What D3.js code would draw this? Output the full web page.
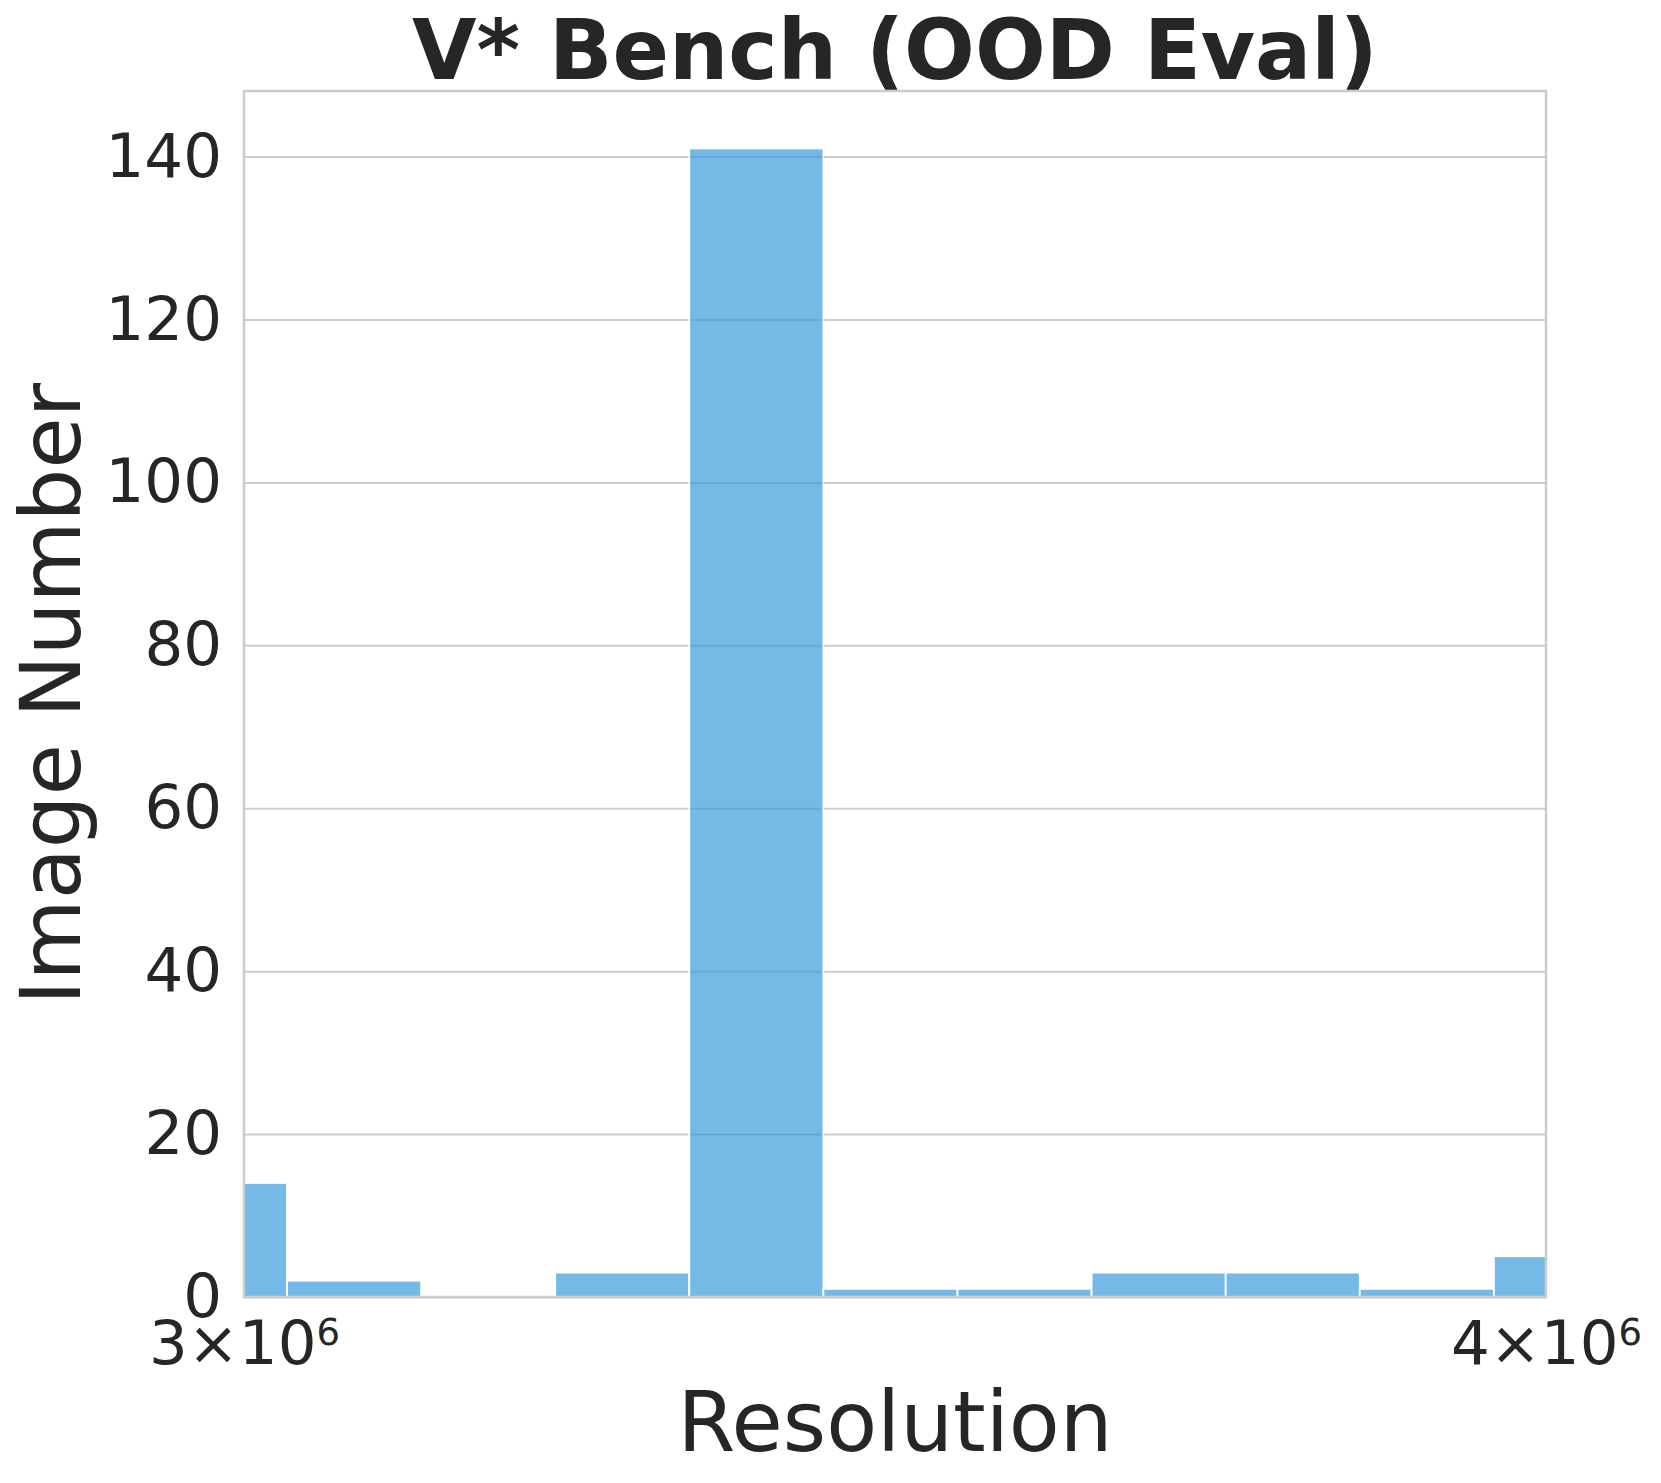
<!DOCTYPE html>
<html>
<head>
<meta charset="utf-8">
<script src="https://cdn.jsdelivr.net/npm/d3@7/dist/d3.min.js"></script>
<style>
  html, body { margin: 0; padding: 0; background: #ffffff; }
  svg { display: block; }
  text { font-family: "DejaVu Sans", sans-serif; fill: #262626; }
</style>
</head>
<body>
<script>
// ---- data ----
const binEdges = [2940220, 3028640, 3119720, 3213540, 3310180, 3409730, 3512270,
                  3617900, 3726700, 3838770, 3954220, 4073130];
const counts = [14, 2, 0, 3, 141, 1, 1, 3, 3, 1, 5];
const xDomain = [3000000, 4000000];
const xTicks = [3000000, 4000000];
const xTickLabels = [["3\u00d710", "6"], ["4\u00d710", "6"]];
const yTicks = [0, 20, 40, 60, 80, 100, 120, 140];
const yMax = 148.05;
const titleText = "V* Bench (OOD Eval)";
const xLabelText = "Resolution";
const yLabelText = "Image Number";

// ---- layout ----
const W = 1661, H = 1483;
const margin = { left: 244, right: W - 1546, top: 91, bottom: H - 1297 };
const iw = W - margin.left - margin.right;
const ih = H - margin.top - margin.bottom;

const svg = d3.select("body").append("svg").attr("width", W).attr("height", H);

const x = d3.scaleLog().domain(xDomain).range([0, iw]);
const y = d3.scaleLinear().domain([0, yMax]).range([ih, 0]);

const g = svg.append("g").attr("transform", `translate(${margin.left},${margin.top})`);

svg.append("defs").append("clipPath").attr("id", "clip")
  .append("rect").attr("x", 0).attr("y", 0).attr("width", iw).attr("height", ih);

// grid
const yAxis = d3.axisLeft(y).tickValues(yTicks).tickSize(-iw).tickPadding(22).tickFormat(d3.format("d"));
const yG = g.append("g").call(yAxis);
yG.select(".domain").remove();
yG.selectAll(".tick line").attr("stroke", "#cccccc").attr("stroke-width", 2);
yG.selectAll(".tick text").attr("font-size", 61).attr("fill", "#262626")
  .style("font-family", "DejaVu Sans, sans-serif");

// bars
const bins = counts.map((c, i) => ({ x0: binEdges[i], x1: binEdges[i + 1], c }));
g.append("g").attr("clip-path", "url(#clip)")
  .selectAll("rect").data(bins.filter(b => b.c > 0)).join("rect")
  .attr("x", d => x(d.x0))
  .attr("width", d => x(d.x1) - x(d.x0))
  .attr("y", d => y(d.c))
  .attr("height", d => y(0) - y(d.c))
  .attr("fill", "#3498db")
  .attr("fill-opacity", 0.68)
  .attr("stroke", "#ffffff")
  .attr("stroke-width", 1.8);

// x axis
const xAxis = d3.axisBottom(x).tickValues(xTicks).tickSize(0).tickPadding(0).tickFormat(() => "");
const xG = g.append("g").attr("transform", `translate(0,${ih})`).call(xAxis);
xG.select(".domain").remove();
xG.selectAll(".tick").each(function (d, i) {
  const t = d3.select(this).append("text")
    .attr("y", 67).attr("text-anchor", "middle")
    .attr("font-size", 61).attr("fill", "#262626");
  t.append("tspan").text(xTickLabels[i][0]);
  t.append("tspan").text(xTickLabels[i][1]).attr("font-size", 37).attr("dy", -19);
});

// spines
g.append("rect").attr("x", 0).attr("y", 0).attr("width", iw).attr("height", ih)
  .attr("fill", "none").attr("stroke", "#cccccc").attr("stroke-width", 2.5);

// title & labels
svg.append("text").attr("x", margin.left + iw / 2).attr("y", 79)
  .attr("text-anchor", "middle").attr("font-size", 83.3).attr("font-weight", "bold")
  .text(titleText);

svg.append("text").attr("x", margin.left + iw / 2).attr("y", 1451)
  .attr("text-anchor", "middle").attr("font-size", 83.3)
  .text(xLabelText);

svg.append("text")
  .attr("transform", `translate(80,${margin.top + ih / 2}) rotate(-90)`)
  .attr("text-anchor", "middle").attr("font-size", 83.3)
  .text(yLabelText);
</script>
</body>
</html>
